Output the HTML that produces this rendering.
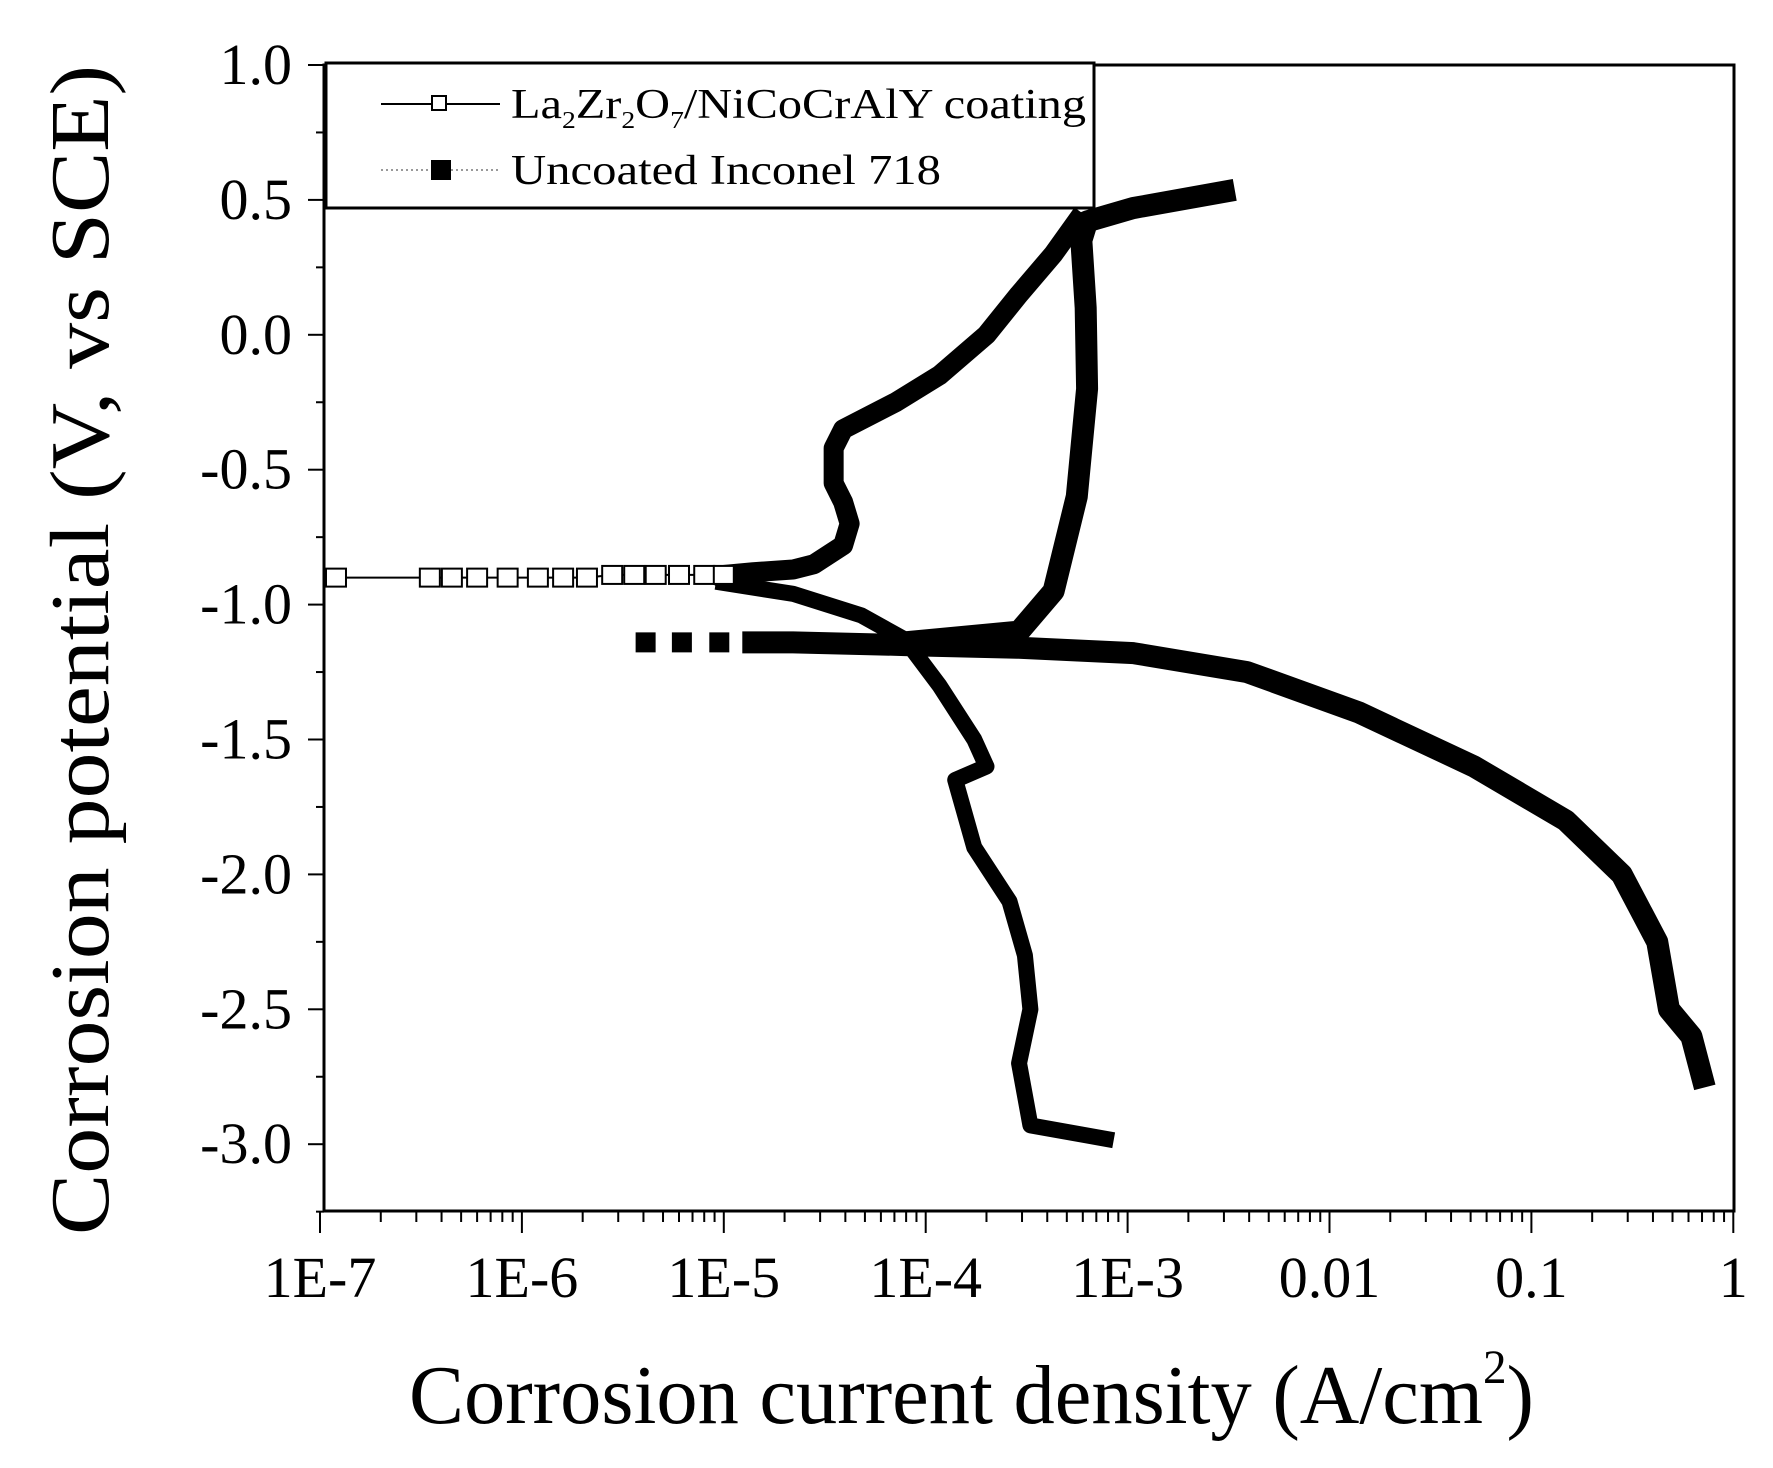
<!DOCTYPE html>
<html><head><meta charset="utf-8"><style>
html,body{margin:0;padding:0;background:#fff;}
svg{display:block;font-family:"Liberation Serif",serif;}
</style></head><body>
<svg id="chart" width="1773" height="1468" viewBox="0 0 1773 1468">
<g id="axes"></g><g id="series"></g>
<rect x="324" y="65" width="1410" height="1146" fill="none" stroke="#000" stroke-width="3"/>
<g>
<rect x="326" y="63" width="768" height="145" fill="#fff" stroke="#000" stroke-width="3"/>
<g>
<line x1="381" y1="104" x2="500" y2="104" stroke="#000" stroke-width="2"/>
<rect x="432" y="96" width="14" height="14" fill="#fff" stroke="#000" stroke-width="2"/>
<text x="511" y="118" font-size="42" textLength="575" lengthAdjust="spacingAndGlyphs">La<tspan font-size="24" dy="10">2</tspan><tspan dy="-10">Zr</tspan><tspan font-size="24" dy="10">2</tspan><tspan dy="-10">O</tspan><tspan font-size="24" dy="10">7</tspan><tspan dy="-10">/NiCoCrAlY coating</tspan></text>
</g>
<g>
<line x1="381" y1="170" x2="500" y2="170" stroke="#999" stroke-width="2" stroke-dasharray="2,3"/>
<rect x="431" y="160" width="20" height="20" fill="#000"/>
<text x="511" y="184" font-size="42" textLength="430" lengthAdjust="spacingAndGlyphs">Uncoated Inconel 718</text>
</g>
</g>
<text transform="translate(108,650) rotate(-90)" text-anchor="middle" font-size="84" textLength="1170" lengthAdjust="spacingAndGlyphs">Corrosion potential (V, vs SCE)</text>
<text x="409" y="1423" font-size="84" textLength="1125" lengthAdjust="spacingAndGlyphs">Corrosion current density (A/cm<tspan font-size="48" dy="-40">2</tspan><tspan dy="40">)</tspan></text>
</svg>
<script>
const xTickLabels=["1E-7","1E-6","1E-5","1E-4","1E-3","0.01","0.1","1"];
const yTickValues=[1.0,0.5,0.0,-0.5,-1.0,-1.5,-2.0,-2.5,-3.0];
const coatedAnodicI=[1.2e-7,3.5e-7,4.5e-7,6e-7,8.5e-7,1.2e-6,1.6e-6,2.1e-6,2.8e-6,3.6e-6,4.6e-6,6e-6,8e-6,1e-5,1.4e-5,2.2e-5,2.8e-5,3.9e-5,4.2e-5,3.9e-5,3.5e-5,3.5e-5,3.9e-5,7.1e-5,1.17e-4,2.0e-4,2.9e-4,4.3e-4,5.6e-4];
const coatedAnodicV=[-0.9,-0.9,-0.9,-0.9,-0.9,-0.9,-0.9,-0.9,-0.89,-0.89,-0.89,-0.89,-0.89,-0.89,-0.88,-0.87,-0.85,-0.78,-0.7,-0.62,-0.55,-0.42,-0.35,-0.25,-0.15,0.0,0.15,0.3,0.42];
const coatedCathodicI=[1e-5,2.2e-5,4.8e-5,7.9e-5,1.17e-4,1.74e-4,2.0e-4,1.4e-4,1.74e-4,2.6e-4,3.1e-4,3.3e-4,2.9e-4,3.3e-4,7.8e-4];
const coatedCathodicV=[-0.92,-0.96,-1.04,-1.13,-1.3,-1.5,-1.6,-1.65,-1.9,-2.1,-2.3,-2.5,-2.7,-2.93,-2.98];
const uncoatedCathodicI=[4.1e-6,6.2e-6,9.5e-6,1.4e-5,2.2e-5,7.9e-5,2.9e-4,1.07e-3,3.9e-3,1.4e-2,5.2e-2,0.148,0.28,0.42,0.48,0.62,0.70];
const uncoatedCathodicV=[-1.14,-1.14,-1.14,-1.14,-1.14,-1.15,-1.16,-1.18,-1.25,-1.4,-1.6,-1.8,-2.0,-2.25,-2.5,-2.6,-2.75];
const uncoatedAnodicI=[7.9e-5,2.9e-4,4.3e-4,5.6e-4,6.3e-4,6.2e-4,5.9e-4,6.3e-4,1.07e-3,3.0e-3];
const uncoatedAnodicV=[-1.14,-1.1,-0.95,-0.6,-0.2,0.1,0.35,0.42,0.47,0.53];

const NS="http://www.w3.org/2000/svg";
const X0=320,DEC=201.9,Y0=65,PERV=269.8;
function xS(i){return X0+(Math.log10(i)+7)*DEC;}
function yS(v){return Y0+(1-v)*PERV;}
function mk(tag,attrs,parent){const e=document.createElementNS(NS,tag);for(const k in attrs)e.setAttribute(k,attrs[k]);parent.appendChild(e);return e;}
const axes=document.getElementById('axes'),ser=document.getElementById('series');
for(let d=0;d<7;d++){for(let m=1;m<10;m++){const x=X0+(d+Math.log10(m))*DEC;
const t=mk('line',{x1:x,y1:1211,x2:x,y2:m===1?1233:1222,stroke:'#000','stroke-width':2},axes);

}}
mk('line',{x1:X0+7*DEC,y1:1211,x2:X0+7*DEC,y2:1233,stroke:'#000','stroke-width':2},axes);
xTickLabels.forEach((l,i)=>{const t=mk('text',{x:X0+i*DEC,y:1297,'font-size':58,'text-anchor':'middle'},axes);t.textContent=l;

});
for(let v=1.0;v>=-3.26;v-=0.25){const y=yS(v);const major=Math.abs(v*2-Math.round(v*2))<1e-6;
const t=mk('line',{x1:major?308:316,y1:y,x2:324,y2:y,stroke:'#000','stroke-width':2},axes);

}
yTickValues.forEach(v=>{const t=mk('text',{x:292,y:yS(v)+19,'font-size':58,'text-anchor':'end'},axes);t.textContent=v.toFixed(1);

});
function pts(I,V){return I.map((i,k)=>xS(i)+','+yS(V[k])).join(' ');}
function line(I,V,w,name){const p=mk('polyline',{points:pts(I,V),fill:'none',stroke:'#000','stroke-width':w,'stroke-linejoin':'round','stroke-linecap':'square'},ser);

}
line(uncoatedCathodicI.slice(3),uncoatedCathodicV.slice(3),22,'uncoated-cathodic-line');
line(uncoatedAnodicI,uncoatedAnodicV,22,'uncoated-anodic-line');
uncoatedCathodicI.slice(0,4).forEach((i,k)=>{const r=mk('rect',{x:xS(i)-10,y:yS(uncoatedCathodicV[k])-10,width:20,height:20,fill:'#000'},ser);

});
line(coatedAnodicI.slice(13),coatedAnodicV.slice(13),20,'coated-anodic-line');
line(coatedCathodicI,coatedCathodicV,16,'coated-cathodic-line');
line(coatedAnodicI.slice(0,14),coatedAnodicV.slice(0,14),2,'coated-anodic-lowcurrent-line');
coatedAnodicI.slice(0,14).forEach((i,k)=>{const r=mk('rect',{x:xS(i)-10,y:yS(coatedAnodicV[k])-9,width:20,height:18,fill:'#fff',stroke:'#000','stroke-width':2},ser);

});
</script>
</body></html>
